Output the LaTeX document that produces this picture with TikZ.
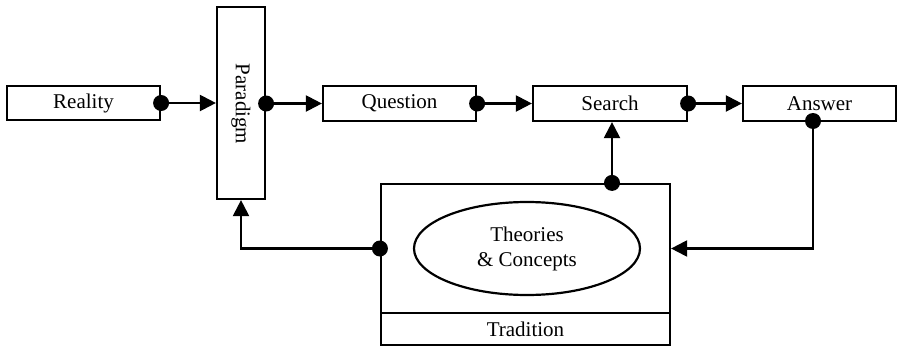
\documentclass[tikz,border=0pt]{standalone}
\usepackage{fontspec}
\setmainfont{Liberation Serif}
\usetikzlibrary{arrows.meta,shapes.geometric}
\begin{document}
\begin{tikzpicture}[x=1pt,y=-1pt,
  box/.style={draw,line width=2.2pt,rectangle,inner sep=0pt,font=\fontsize{21}{25}\selectfont},
  conn/.style={line width=2.2pt,-{Triangle[length=16pt,width=16pt]}},
  dot/.style={fill=black}]
\useasboundingbox (0,0) rectangle (897,348);
\node[box,minimum width=153pt,minimum height=34pt] (reality) at (83.5,103) {Reality};
\node[box,minimum width=48pt,minimum height=192pt] (paradigm) at (241,103) {};
\node[font=\fontsize{21}{25}\selectfont,rotate=-90] (ptext) at (241,104) {Paradigm};
\node[box,minimum width=153pt,minimum height=35pt] (question) at (399.5,103.5) {Question};
\node[box,minimum width=154pt,minimum height=35pt] (search) at (610,103.5) {Search};
\node[box,minimum width=153pt,minimum height=35pt] (answer) at (819.5,103.5) {Answer};
\node[box,minimum width=289pt,minimum height=129pt] (tbox) at (525.5,248.5) {};
\node[box,minimum width=289pt,minimum height=32pt] (trad) at (525.5,329) {Tradition};
\node[box,ellipse,minimum width=226pt,minimum height=93pt,align=center] (theo) at (527,248.5) {Theories\\\& Concepts};
% connectors
\draw[conn] (reality.east) -- (paradigm.west |- reality.east);
\draw[conn] (paradigm.east |- question.west) -- (question.west);
\draw[conn] (question.east) -- (search.west);
\draw[conn] (search.east) -- (answer.west);
\draw[conn] (tbox.north -| search.south) ++(2,0) coordinate (tup) -- (tup |- search.south);
\coordinate (ans) at (813,121);
\draw[conn] (ans) |- (tbox.east);
\draw[conn] (tbox.west) -| (paradigm.south);
% dots
\fill[dot] (reality.east) circle (8pt);
\fill[dot] (paradigm.east |- question.west) circle (8pt);
\fill[dot] (question.east) circle (8pt);
\fill[dot] (search.east) circle (8pt);
\fill[dot] (tup) circle (8pt);
\fill[dot] (ans) circle (8pt);
\fill[dot] (tbox.west) circle (8pt);
\end{tikzpicture}
\end{document}
